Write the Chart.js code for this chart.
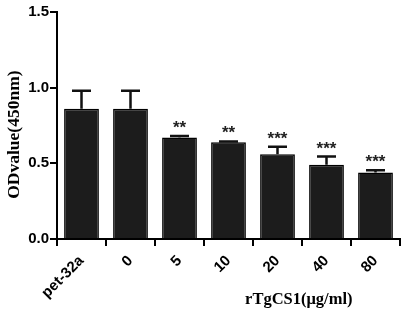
<!DOCTYPE html>
<html>
<head>
<meta charset="utf-8">
<script src="https://cdn.jsdelivr.net/npm/chart.js@4.4.0/dist/chart.umd.min.js"></script>
<style>
  html, body { margin: 0; padding: 0; background: #fff; }
  #wrap { width: 403px; height: 311px; }
</style>
</head>
<body>
<div id="wrap"><canvas id="chart"></canvas></div>
<script>
// values
const categories = ['pet-32a', '0', '5', '10', '20', '40', '80'];
const odValues = [0.86, 0.86, 0.67, 0.64, 0.56, 0.49, 0.44];
const errValues = [0.12, 0.12, 0.01, 0.005, 0.05, 0.055, 0.015];
const stars = ['', '', '**', '**', '***', '***', '***'];
const yTicks = [0, 0.5, 1.0, 1.5];

const errorBars = {
  id: 'errorBars',
  afterDatasetsDraw(chart) {
    const ctx = chart.ctx;
    const meta = chart.getDatasetMeta(0);
    const y = chart.scales.y;
    const area = chart.chartArea;
    ctx.save();
    ctx.strokeStyle = '#111';
    meta.data.forEach((bar, i) => {
      const top = y.getPixelForValue(odValues[i]);
      const hi = y.getPixelForValue(odValues[i] + errValues[i]);
      ctx.lineWidth = 2.5;
      ctx.beginPath();
      ctx.moveTo(bar.x, top);
      ctx.lineTo(bar.x, hi);
      ctx.moveTo(bar.x - 9.5, hi);
      ctx.lineTo(bar.x + 9.5, hi);
      ctx.stroke();
      if (stars[i]) {
        ctx.fillStyle = '#222';
        ctx.font = 'bold 17px "Liberation Sans", Arial';
        ctx.textAlign = 'center';
        ctx.textBaseline = 'alphabetic';
        ctx.fillText(stars[i], bar.x, hi - 3);
      }
    });
    // axis titles
    ctx.fillStyle = '#000';
    ctx.font = 'bold 16.5px "Liberation Serif", "Times New Roman"';
    ctx.textAlign = 'center';
    ctx.textBaseline = 'middle';
    ctx.fillText('rTgCS1(μg/ml)', area.left + (area.right - area.left) * 0.705, 300);
    ctx.translate(14, area.top + (area.bottom - area.top) * 0.54);
    ctx.rotate(-Math.PI / 2);
    ctx.font = 'bold 17.5px "Liberation Serif", "Times New Roman"';
    ctx.fillText('ODvalue(450nm)', 0, 0);
    ctx.restore();
  }
};

new Chart(document.getElementById('chart'), {
  type: 'bar',
  data: {
    labels: categories,
    datasets: [{
      label: 'OD value',
      data: odValues,
      backgroundColor: '#1c1c1c',
      borderColor: '#000',
      borderWidth: 1.5,
      barPercentage: 0.71,
      categoryPercentage: 1.0
    }]
  },
  options: {
    responsive: true,
    maintainAspectRatio: false,
    animation: false,
    layout: { padding: { top: 12, right: 3, left: 0, bottom: 0 } },
    plugins: {
      legend: { display: false },
      tooltip: { enabled: false }
    },
    scales: {
      x: {
        grid: { drawOnChartArea: false, drawTicks: true, tickLength: 7, color: '#000', lineWidth: 2 },
        border: { color: '#000', width: 2 },
        ticks: {
          color: '#000',
          minRotation: 45,
          maxRotation: 45,
          padding: 6,
          font: { family: '"Liberation Sans", Arial', size: 15, weight: 'bold' }
        },
        afterFit(scale) { scale.height = 72; }
      },
      y: {
        min: 0,
        max: 1.5,
        afterBuildTicks(scale) { scale.ticks = yTicks.map(v => ({ value: v })); },
        grid: { drawOnChartArea: false, drawTicks: true, tickLength: 7, color: '#000', lineWidth: 2 },
        border: { color: '#000', width: 2 },
        ticks: {
          color: '#000',
          padding: 1,
          font: { family: '"Liberation Sans", Arial', size: 15, weight: 'bold' },
          callback: v => Number(v).toFixed(1)
        },
        afterFit(scale) { scale.width = 57; }
      }
    }
  },
  plugins: [errorBars]
});
</script>
</body>
</html>
